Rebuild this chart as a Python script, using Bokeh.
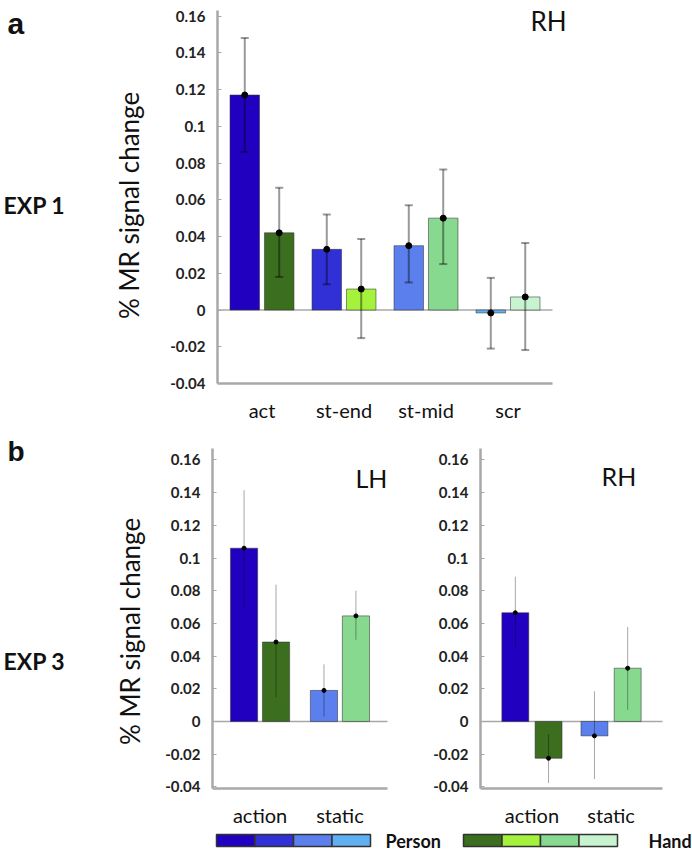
import math
from bokeh.plotting import figure
from bokeh.models import (Range1d, LinearAxis, Label, FixedTicker, CustomJSTickFormatter)
from bokeh.embed import file_html
from bokeh.resources import INLINE

# ---------------- data ----------------
# EXP 1, RH
exp1_conditions = ["act", "st-end", "st-mid", "scr"]
exp1_person = [0.117, 0.033, 0.035, -0.0016]
exp1_person_lo = [0.086, 0.014, 0.015, -0.021]
exp1_person_hi = [0.148, 0.052, 0.057, 0.0175]
exp1_hand = [0.042, 0.0114, 0.050, 0.0071]
exp1_hand_lo = [0.018, -0.0153, 0.025, -0.0218]
exp1_hand_hi = [0.0665, 0.0387, 0.0765, 0.0365]

# EXP 3, LH and RH
exp3_conditions = ["action", "static"]
exp3_lh_person = [0.106, 0.019]
exp3_lh_person_lo = [0.069, 0.003]
exp3_lh_person_hi = [0.1415, 0.035]
exp3_lh_hand = [0.0486, 0.0646]
exp3_lh_hand_lo = [0.0148, 0.050]
exp3_lh_hand_hi = [0.0837, 0.080]

exp3_rh_person = [0.0665, -0.0088]
exp3_rh_person_lo = [0.0443, -0.0353]
exp3_rh_person_hi = [0.0886, 0.0185]
exp3_rh_hand = [-0.0225, 0.0326]
exp3_rh_hand_lo = [-0.0377, 0.0072]
exp3_rh_hand_hi = [-0.0078, 0.0578]

# colours: act / st-end / st-mid / scr
person_colors = ["#2200c0", "#3030d6", "#5b80ee", "#5fb0f2"]
hand_colors = ["#3b6e1e", "#a4f23c", "#86d98f", "#c8f3cf"]
exp3_person_colors = [person_colors[0], person_colors[2]]
exp3_hand_colors = [hand_colors[0], hand_colors[2]]

legend_names = ["Person", "Hand"]
y_label = "% MR signal change"
y_ticks = [-0.04, -0.02, 0, 0.02, 0.04, 0.06, 0.08, 0.1, 0.12, 0.14, 0.16]

# ---------------- page ----------------
W, H = 692, 851
AXIS_GREY = "#a8a8a8"
FONT = "Lato"

p = figure(width=W, height=H, output_backend="svg", toolbar_location=None,
           x_range=Range1d(0, W), y_range=Range1d(H, 0),
           x_axis_location=None, y_axis_location=None, min_border=0)
p.outline_line_color = None
p.grid.visible = False
p.background_fill_color = "white"
p.border_fill_color = "white"


def y_scale(name, v_bot, px_bot, v_top, px_top):
    s = (px_bot - px_top) / (v_top - v_bot)
    p.extra_y_ranges[name] = Range1d(v_bot - (H - px_bot) / s, v_top + px_top / s)


def chart(name, yname, groups, person, p_lo, p_hi, hand, h_lo, h_hi, p_cols, h_cols,
          left_px, right_px, pad, off, bw, y_bounds, thick):
    n = len(groups)
    u_lo, u_hi = -0.5 - pad / 2, n - 0.5 + pad / 2
    s = (right_px - left_px) / (u_hi - u_lo)
    p.extra_x_ranges[name] = Range1d(u_lo - left_px / s, u_hi + (W - right_px) / s)
    rn = dict(x_range_name=name, y_range_name=yname)

    # zero line
    p.segment(x0=[u_lo], x1=[u_hi], y0=[0], y1=[0], line_color=AXIS_GREY, line_width=1.5, **rn)

    idx = list(range(n))
    for vals, lo, hi, cols, sgn in ((person, p_lo, p_hi, p_cols, -1), (hand, h_lo, h_hi, h_cols, 1)):
        xs = [i + sgn * off for i in idx]
        p.vbar(x=xs, top=vals, width=bw, fill_color=cols, line_color="#333333",
               line_alpha=0.55, line_width=1, **rn)
        if thick:
            p.segment(x0=xs, x1=xs, y0=lo, y1=hi, line_color="black", line_alpha=0.4,
                      line_width=2, **rn)
            p.scatter(x=xs + xs, y=list(lo) + list(hi), marker="dash", size=8,
                      line_color="black", line_alpha=0.4, line_width=2, **rn)
            dot = 6
        else:
            p.segment(x0=xs, x1=xs, y0=lo, y1=hi, line_color="black", line_alpha=0.35,
                      line_width=1, **rn)
            dot = 4
        p.scatter(x=xs, y=vals, size=dot, color="black", **rn)

    ya = LinearAxis(x_range_name="default", y_range_name=yname, fixed_location=left_px,
                    bounds=y_bounds, ticker=FixedTicker(ticks=y_ticks),
                    formatter=CustomJSTickFormatter(code="return String(Math.round(tick*100)/100)"))
    ya.axis_line_color = AXIS_GREY
    ya.axis_line_width = 2.5
    ya.major_tick_in = 4
    ya.major_tick_out = 0
    ya.major_tick_line_color = AXIS_GREY
    ya.minor_tick_line_color = None
    ya.major_label_standoff = 12
    ya.major_label_text_font = FONT
    ya.major_label_text_font_size = "15px"
    ya.major_label_text_font_style = "bold"
    ya.major_label_text_color = "#222222"
    p.add_layout(ya, "left")

    xa = LinearAxis(x_range_name=name, y_range_name=yname, fixed_location=y_bounds[0],
                    bounds=(u_lo, u_hi), ticker=FixedTicker(ticks=idx),
                    formatter=CustomJSTickFormatter(args=dict(names=groups),
                                                    code="return names[Math.round(tick)] || ''"))
    xa.axis_line_color = AXIS_GREY
    xa.axis_line_width = 2.5
    xa.major_tick_line_color = None
    xa.minor_tick_line_color = None
    xa.major_label_standoff = 8
    xa.major_label_text_font = FONT
    xa.major_label_text_font_size = "20px"
    xa.major_label_text_color = "#111111"
    p.add_layout(xa, "below")


def text(x, y, t, size, font=FONT, bold=False, **kw):
    p.add_layout(Label(x=x, y=y, text=t, text_font=font, text_font_size=size,
                       text_font_style="bold" if bold else "normal",
                       text_color="#111111", **kw))


# ---------------- panel a (EXP 1) ----------------
y_scale("a", -0.04, 383, 0.163, 10)
chart("a", "a", exp1_conditions, exp1_person, exp1_person_lo, exp1_person_hi,
      exp1_hand, exp1_hand_lo, exp1_hand_hi, person_colors, hand_colors,
      left_px=217, right_px=552, pad=0.085, off=0.21, bw=0.36,
      y_bounds=(-0.04, 0.163), thick=True)
text(7, 39, "a", "30px", font="Liberation Sans", bold=True)
text(3, 218, "EXP 1", "23px", bold=True)
text(530, 36, "RH", "26px")
text(144, 205, y_label, "26px", angle=math.pi / 2, text_align="center")

# ---------------- panel b (EXP 3) ----------------
y_scale("b", -0.041, 788, 0.167, 448)
chart("bl", "b", exp3_conditions, exp3_lh_person, exp3_lh_person_lo, exp3_lh_person_hi,
      exp3_lh_hand, exp3_lh_hand_lo, exp3_lh_hand_hi, exp3_person_colors, exp3_hand_colors,
      left_px=212, right_px=387, pad=0.19, off=0.2, bw=0.34,
      y_bounds=(-0.041, 0.167), thick=False)
chart("br", "b", exp3_conditions, exp3_rh_person, exp3_rh_person_lo, exp3_rh_person_hi,
      exp3_rh_hand, exp3_rh_hand_lo, exp3_rh_hand_hi, exp3_person_colors, exp3_hand_colors,
      left_px=480, right_px=662, pad=0.3, off=0.21, bw=0.34,
      y_bounds=(-0.041, 0.167), thick=False)
text(7, 466, "b", "28px", font="Liberation Sans", bold=True)
text(3, 674, "EXP 3", "23px", bold=True)
text(355, 492, "LH", "25px")
text(601, 490, "RH", "25px")
text(145, 631, y_label, "26px", angle=math.pi / 2, text_align="center")

# ---------------- legend strip ----------------
box_w = 38.5
for start, cols, name, text_x in ((216, person_colors, legend_names[0], 385),
                                  (463, hand_colors, legend_names[1], 648)):
    lefts = [start + i * box_w for i in range(len(cols))]
    rights = [l + box_w for l in lefts]
    p.quad(left=lefts, right=rights, top=834, bottom=846, fill_color=cols,
           line_color="#333333", line_width=1.5)
    text(text_x, 840, name, "18px", bold=True, text_baseline="middle")

open("out.html", "w").write(file_html(p, INLINE))
